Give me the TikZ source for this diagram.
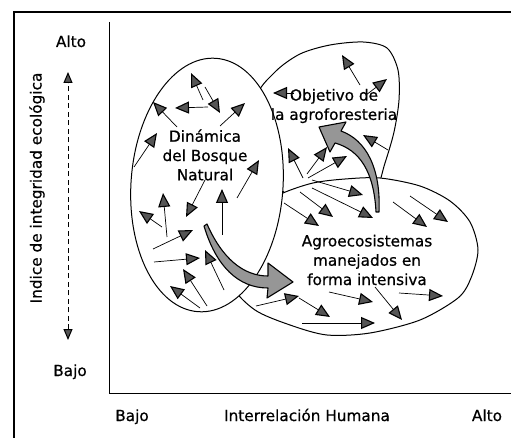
\documentclass[tikz,border=0pt]{standalone}
\usepackage{fontspec}
\setmainfont{DejaVu Sans}[FakeBold=0.6]
\usetikzlibrary{arrows.meta}
\definecolor{headgray}{RGB}{85,85,85}
\definecolor{bandgray}{RGB}{150,150,150}

\tikzset{
  tri/.tip={Triangle[length=14pt,width=12pt,fill=headgray,line width=1.1pt]},
  smalltri/.tip={Triangle[length=11pt,width=9pt,fill=headgray,line width=1pt]},
  flow/.style={-tri, line width=0.7pt},
  blob/.style={draw, fill=white, line width=1pt},
  txt/.style={font=\fontsize{15.3}{19.3}\selectfont, align=center, inner sep=0pt},
  bigarrow/.style={draw, fill=bandgray, line width=1.1pt, line join=round}
}

\begin{document}
\begin{tikzpicture}[x=1pt,y=-1pt]
\useasboundingbox (0,0) rectangle (511,438);

% frame and axes
\draw[line width=2.5pt] (14,438) -- (14,12) -- (511,12);
\draw[line width=1pt] (109,22) -- (109,393) -- (511,393);

% axis labels
\node[txt, anchor=base] (altoy) at (71,47) {Alto};
\node[txt, anchor=base] (bajoy) at (70,376) {Bajo};
\node[txt, rotate=90] (indice) at (37,188) {Indice de integridad ecológica};
\node[txt, anchor=base] (bajox) at (132,421) {Bajo};
\node[txt, anchor=base] (interrel) at (307,421) {Interrelación Humana};
\node[txt, anchor=base] (altox) at (487,421) {Alto};

% dashed arrow along the vertical axis
\coordinate (ytop) at (68,72);
\coordinate (ybot) at (68,340);
\draw[smalltri-smalltri, dash pattern=on 5pt off 3.5pt, line width=0.8pt] (ybot) -- (ytop);

% objetivo blob
\draw[blob] plot[smooth cycle] coordinates {(256,100) (275,72) (300,54) (330,45) (363,42) (387,48) (398,70) (399,100) (394,132) (385,163) (372,200) (340,215) (300,205) (262,165)};

% agroecosistemas blob
\draw[blob] plot[smooth cycle] coordinates {(283,193) (313,183) (345,179) (380,178) (420,186) (450,201) (470,222) (478,250) (471,278) (458,298) (420,320) (370,333) (327,335) (290,325) (255,310) (232,285) (230,245) (255,208)};

% bosque ellipse
\draw[blob, rotate around={-4:(207,185)}] (207,185) ellipse [x radius=76, y radius=127];

% texts
\node[txt] (bosque) at (205,155) {Dinámica\\del Bosque\\Natural};
\node[txt] (objetivo) at (334,106) {Objetivo de\\la agroforesteria};
\node[txt] (agro) at (367,260) {Agroecosistemas\\manejados en\\forma intensiva};

% big curved arrows
\filldraw[bigarrow] (207,224) .. controls (222,258) and (243,276) .. (268,276) -- (268,263) -- (293,282) -- (267,298) -- (268,288) .. controls (238,288) and (216,266) .. (204,226) -- cycle;
\filldraw[bigarrow] (379,212) .. controls (381,168) and (366,140) .. (341,131) -- (346,122) -- (319,127) -- (330,152) -- (335,143) .. controls (360,150) and (374,172) .. (376,212) -- cycle;

% small arrows
\foreach \a/\b/\c/\d [count=\i] in {
  203/100/191/73, 205/87/220/113, 208/107/175/108, 177/127/153/102,
  220/126/245/103, 134/167/157/133, 237/198/259/160, 205/180/186/217,
  222/235/222/189, 167/237/163/193, 162/227/139/211, 153/249/193/230,
  154/262/200/258, 224/290/205/250, 207/306/183/269, 200/308/170/286,
  360/85/342/55, 366/95/387/79, 294/93/273/93, 388/150/363/135,
  303/178/288/148, 307/174/327/147, 308/178/347/156,
  312/180/363/195, 300/192/333/217, 312/188/373/218, 284/203/319/226,
  256/306/299/296, 299/298/330/317, 302/323/375/323, 329/292/373/302,
  375/287/402/320, 399/293/443/296, 393/202/427/227, 410/196/448/222}
{
  \coordinate (t\i) at (\a,\b);
  \coordinate (h\i) at (\c,\d);
  \draw[flow] (t\i) -- (h\i);
}
\end{tikzpicture}
\end{document}
